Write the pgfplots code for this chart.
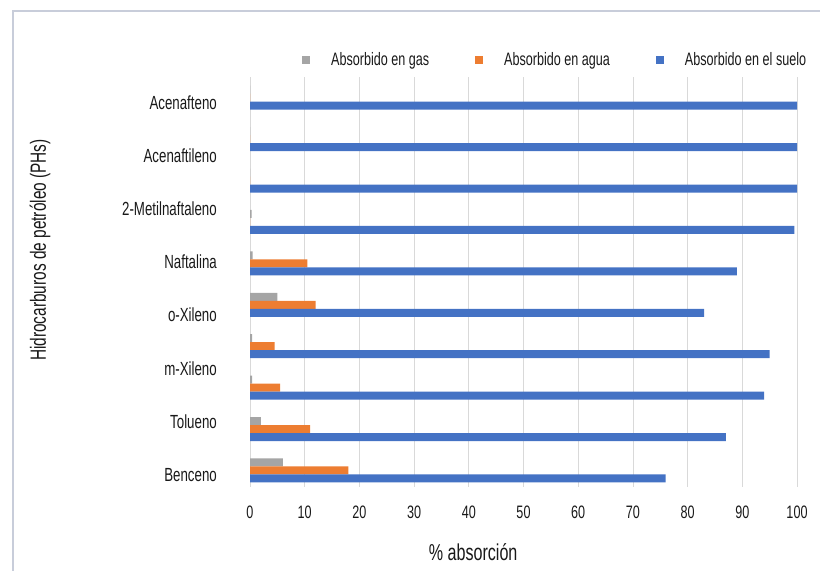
\documentclass[border=0pt]{standalone}
\usepackage{fontspec}
\setmainfont{Liberation Sans}[FakeStretch=0.7]
\usepackage{pgfplots}
\pgfplotsset{compat=1.18}
\definecolor{cgas}{HTML}{A5A5A5}
\definecolor{cagua}{HTML}{ED7D31}
\definecolor{csuelo}{HTML}{4472C4}
\definecolor{cgrid}{HTML}{D9D9D9}
\definecolor{cframe}{HTML}{C8CDDA}
\begin{document}
\begin{tikzpicture}
\path[use as bounding box] (0,0) rectangle (820bp,571bp);
\draw[cframe, line width=1.2bp] (13bp,0) -- (13bp,560bp) -- (820bp,560bp);
\begin{axis}[
  at={(250bp,84bp)}, anchor=south west,
  scale only axis, width=547bp, height=410bp,
  xmin=0, xmax=100, ymin=-0.4, ymax=9.5,
  xbar, bar width=8bp,
  axis line style={draw=none},
  major tick length=0,
  xtick={0,10,...,100},
  xmajorgrids, grid style={cgrid, line width=0.8bp},
  ytick={-0.11,1.176,2.46,3.75,5.03,6.32,7.60,8.89},
  yticklabels={Benceno,Tolueno,m-Xileno,o-Xileno,Naftalina,2-Metilnaftaleno,Acenaftileno,Acenafteno},
  /pgf/number format/assume math mode=true,
  yticklabel style={font=\fontsize{19bp}{21bp}\selectfont, anchor=east, inner sep=0pt, xshift=-33bp, text=black!90},
  xticklabel style={font=\fontsize{18bp}{20bp}\selectfont, anchor=north, inner sep=0pt, yshift=-19bp, text=black!90},
  xlabel={\% absorción},
  every axis x label/.style={at={(axis description cs:0.408,-0.159)}, anchor=center, font=\fontsize{23bp}{25bp}\selectfont, text=black!90},
  ylabel={Hidrocarburos de petróleo (PHs)},
  every axis y label/.style={at={(axis description cs:-0.384,0.578)}, rotate=90, anchor=center, font=\fontsize{22bp}{24bp}\selectfont, text=black!90},
  legend columns=3,
  legend style={at={(axis description cs:0.095,1.041)}, anchor=west, draw=none, fill=none, inner sep=0pt,
    font=\fontsize{18bp}{20bp}\selectfont, text=black!90,
    /tikz/every even column/.append style={column sep=44bp}},
  legend image code/.code={\fill (0bp,-4bp) rectangle (8bp,4bp); \path (27bp,0bp);},
]
\addplot[fill=cgas, draw=none, bar shift=8bp] coordinates {
(6,0) (2,1) (0.4,2) (0.4,3) (5,4) (0.5,5) (0.3,6) (0,7) (0,8) (0,9)};
\addlegendentry{Absorbido en gas}
\addplot[fill=cagua, draw=none, bar shift=0bp] coordinates {
(18,0) (11,1) (5.5,2) (4.5,3) (12,4) (10.5,5) (0,6) (0,7) (0,8) (0,9)};
\addlegendentry{Absorbido en agua}
\addplot[fill=csuelo, draw=none, bar shift=-8bp] coordinates {
(76,0) (87,1) (94,2) (95,3) (83,4) (89,5) (99.5,6) (100,7) (100,8) (100,9)};
\addlegendentry{Absorbido en el suelo}
\end{axis}
\end{tikzpicture}
\end{document}
